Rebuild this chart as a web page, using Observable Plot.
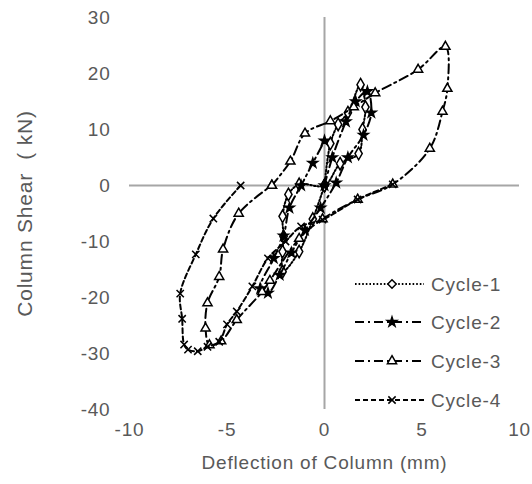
<!DOCTYPE html>
<html><head><meta charset="utf-8">
<script src="https://cdn.jsdelivr.net/npm/d3@7"></script>
<script src="https://cdn.jsdelivr.net/npm/@observablehq/plot@0.6"></script>
<style>
body{margin:0;background:#fff;}
#wrap{position:relative;width:532px;height:484px;font-family:"Liberation Sans",Arial,sans-serif;}
#legend{position:absolute;left:0;top:0;pointer-events:none;}
</style></head><body><div id="wrap"></div>
<script>
// ---- data ----
const cycleNames = ["Cycle-1", "Cycle-2", "Cycle-3", "Cycle-4"];

const cycle1X = [0, 0.3, 0.7, 1.2, 1.85, 2.1, 1.95, 1.75, 0.8, 0, -1.3, -1.85, -2.15, -2.1, -2.15, -2.15, -1.3, -0.6, 0];
const cycle1Y = [0, 7.5, 10.9, 13, 18, 14, 10, 5.7, 3.9, 0, 0.2, -1.6, -5.5, -9.1, -11.8, -15.4, -11.8, -6, 0];

const cycle2X = [0, 0.4, 1.1, 1.6, 2.2, 2.4, 2.0, 1.2, 0.6, -0.2, -1.0, -1.7, -2.3, -2.9, -3.3, -2.6, -2.1, -1.8, -1.2, -0.6, 0];
const cycle2Y = [0, 5, 11.4, 15, 16.8, 13, 9, 5, 0.5, -4, -8, -12, -16, -19.2, -18.4, -13, -9, -4, 0, 4, 8];

const cycle3X = [-2.7, -1.75, -1.0, 0.3, 1.5, 2.6, 4.8, 6.2, 6.3, 6.05, 5.4, 3.5, 1.7, -0.1, -1.3, -2.8, -3.2, -4.5, -5.3, -5.9, -6.1, -6.0, -5.4, -5.2, -4.4, -2.7];
const cycle3Y = [0, 4.3, 9.3, 11.5, 14, 16.5, 20.7, 24.8, 17.3, 13.2, 6.6, 0.2, -2.5, -6, -9.5, -17, -19, -24, -27.8, -28.5, -25.5, -21, -16.3, -11.4, -5, 0];

const cycle4X = [-4.3, -5.7, -6.6, -7.4, -7.3, -7.2, -7.0, -6.5, -6.0, -5.4, -5.0, -4.5, -3.7, -2.9, -2.0, -1.2, -0.1, 1.7, 3.5];
const cycle4Y = [0, -5.9, -12.3, -19.3, -23.8, -28.4, -29.3, -29.6, -28.8, -27.9, -24.8, -22.5, -18, -13, -10, -7.3, -6.1, -2.5, 0.2];

const xTicks = [-10, -5, 0, 5, 10];
const yTicks = [-40, -30, -20, -10, 0, 10, 20, 30];
const xLabel = "Deflection of Column (mm)";
const yLabel = "Column Shear  ( kN)";

// ---- styles ----
const styles = {
  "Cycle-1": {dash: "1.6,2", symbol: "diamond", fill: "white", r: 3.8},
  "Cycle-2": {dash: "9,4,2,4", symbol: "star", fill: "black", r: 3},
  "Cycle-3": {dash: "9,4,2,4", symbol: "triangle", fill: "white", r: 3.4},
  "Cycle-4": {dash: "5,3", symbol: "times", fill: "none", r: 3.4}
};

const series = [[cycle1X, cycle1Y], [cycle2X, cycle2Y], [cycle3X, cycle3Y], [cycle4X, cycle4Y]];
const rows = [];
series.forEach(([xs, ys], i) => xs.forEach((x, j) => rows.push({cycle: cycleNames[i], x, y: ys[j]})));

const textColor = "#595959";
const marks = [
  Plot.ruleY([0], {stroke: "#a6a6a6", strokeWidth: 2}),
  Plot.ruleX([0], {stroke: "#a6a6a6", strokeWidth: 2}),
  Plot.axisX({ticks: xTicks, tickSize: 0, tickPadding: 13, fontSize: 19, label: null, tickFormat: d => String(d)}),
  Plot.axisY({ticks: yTicks, tickSize: 0, tickPadding: 19, fontSize: 19, label: null, tickFormat: d => String(d)}),
  Plot.axisX({ticks: [], tickSize: 0, label: xLabel, labelAnchor: "center", labelOffset: 59, labelArrow: "none", fontSize: 19}),
  Plot.axisY({ticks: [], tickSize: 0, label: yLabel, labelAnchor: "center", labelOffset: 112, labelArrow: "none", fontSize: 21})
];
cycleNames.forEach(name => {
  const d = rows.filter(r => r.cycle === name);
  const s = styles[name];
  marks.push(Plot.line(d, {x: "x", y: "y", stroke: "black", strokeWidth: 2, strokeDasharray: s.dash, curve: "catmull-rom"}));
  marks.push(Plot.dot(d, {x: "x", y: "y", symbol: s.symbol, r: s.r, stroke: "black", strokeWidth: 1.5, fill: s.fill}));
});

const chart = Plot.plot({
  width: 532,
  height: 484,
  marginLeft: 129,
  marginRight: 13,
  marginTop: 17,
  marginBottom: 75,
  style: {fontFamily: "Liberation Sans, Arial, sans-serif", color: textColor, background: "white", letterSpacing: "0.8px"},
  x: {domain: [-10, 10]},
  y: {domain: [-40, 30]},
  marks
});
const wrap = document.getElementById("wrap");
wrap.appendChild(chart);

// ---- legend (inside plot, bottom right) ----
const legendRows = [284, 322, 361, 400];
const lg = d3.select(wrap).append("svg").attr("id", "legend").attr("width", 532).attr("height", 484);
cycleNames.forEach((name, i) => {
  const s = styles[name];
  const g = lg.append("g").attr("transform", `translate(0,${legendRows[i]})`);
  g.append("line").attr("x1", 355).attr("x2", 424).attr("y1", 0).attr("y2", 0)
    .attr("stroke", "black").attr("stroke-width", 2).attr("stroke-dasharray", s.dash);
  const sym = d3.symbol({
    diamond: d3.symbolDiamond2 || d3.symbolDiamond, star: d3.symbolStar,
    triangle: d3.symbolTriangle, times: d3.symbolTimes || d3.symbolX
  }[s.symbol], Math.PI * s.r * s.r);
  g.append("path").attr("d", sym()).attr("transform", "translate(392,0)")
    .attr("stroke", "black").attr("stroke-width", 1.5).attr("fill", s.fill);
  g.append("text").attr("x", 431).attr("y", 0).attr("dy", "0.35em")
    .attr("fill", textColor).attr("font-size", 19).attr("letter-spacing", "0.8px")
    .attr("font-family", "Liberation Sans, Arial, sans-serif").text(name);
});
</script>
</body></html>
